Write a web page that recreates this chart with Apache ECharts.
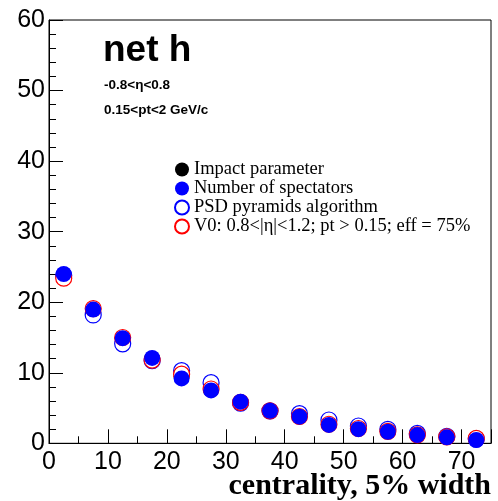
<!DOCTYPE html>
<html><head><meta charset="utf-8">
<script src="https://cdn.jsdelivr.net/npm/echarts@6/dist/echarts.min.js"></script>
<style>html,body{margin:0;padding:0;background:#fff}#c{width:498px;height:501px}</style>
</head><body><div id="c"></div>
<script>
var centrality = [2.5,7.5,12.5,17.5,22.5,27.5,32.5,37.5,42.5,47.5,52.5,57.5,62.5,67.5,72.5];
var impact     = [23.7,18.6,14.8,12.0,9.5,7.6,5.8,4.6,3.8,2.7,2.1,1.7,1.2,0.9,0.7];
var spectators = [24.0,18.95,14.9,12.1,9.2,7.5,5.9,4.6,3.77,2.6,2.0,1.64,1.17,0.85,0.47];
var psd        = [23.8,18.2,14.1,11.7,10.3,8.6,5.7,4.6,4.2,3.3,2.45,1.98,1.4,1.0,0.6];
var v0         = [23.4,19.1,15.0,11.8,9.8,7.7,5.8,4.6,3.8,2.7,2.1,1.7,1.2,0.9,0.7];
var names = ['Impact parameter','Number of spectators','PSD pyramids algorithm','V0: 0.8<|η|<1.2; pt > 0.15; eff = 75%'];
var xTitle = 'centrality, 5% width';

function pairs(v){ return centrality.map(function(x,i){return [x, v[i]];}); }
var chart = echarts.init(document.getElementById('c'));
var sans = 'Liberation Sans, Arial, Helvetica, sans-serif';
var serif = 'Liberation Serif, Times New Roman, serif';
chart.setOption({
  animation:false,
  backgroundColor:'#fff',
  title:[
    {text:'net h', left:103, top:32, padding:0, textStyle:{fontFamily:sans,fontWeight:'bold',fontSize:37,color:'#000'}},
    {text:'-0.8<η<0.8', left:104, top:78, padding:0, textStyle:{fontFamily:sans,fontWeight:'bold',fontSize:13.5,color:'#000'}},
    {text:'0.15<pt<2 GeV/c', left:104, top:103, padding:0, textStyle:{fontFamily:sans,fontWeight:'bold',fontSize:13.5,color:'#000'}}
  ],
  graphic:[
    {type:'text', right:7, top:471, style:{text:xTitle, font:'bold 30px ' + serif, fill:'#000'}}
  ],
  legend:{
    orient:'vertical', left:174, top:160, padding:0, itemGap:0, itemWidth:14, itemHeight:14,
    textStyle:{fontFamily:serif,fontSize:18.5,lineHeight:17,color:'#000'},
    data:names.map(function(n){return {name:n, icon:'circle'};})
  },
  grid:{left:49,right:7,top:20,bottom:57.7,show:true,borderColor:'#000',borderWidth:1,containLabel:false,outerBoundsMode:'none'},
  xAxis:{
    type:'value', min:0, max:75, interval:10,
    axisLine:{lineStyle:{color:'#000',width:1}},
    axisTick:{inside:true,length:14,lineStyle:{color:'#000'}},
    minorTick:{show:true,splitNumber:2,length:7,lineStyle:{color:'#000'}},
    splitLine:{show:false},
    axisLabel:{fontFamily:sans,fontSize:25,color:'#000',margin:6,showMaxLabel:false}
  },
  yAxis:{
    type:'value', min:0, max:60, interval:10,
    axisLine:{show:true,lineStyle:{color:'#000',width:1}},
    axisTick:{inside:true,length:14,lineStyle:{color:'#000'}},
    minorTick:{show:true,splitNumber:5,length:7,lineStyle:{color:'#000'}},
    splitLine:{show:false},
    axisLabel:{fontFamily:sans,fontSize:25,color:'#000',margin:4}
  },
  series:[
    {name:names[0],type:'scatter',symbol:'circle',symbolSize:16,data:pairs(impact),itemStyle:{color:'#000',opacity:1},z:2},
    {name:names[2],type:'scatter',symbol:'circle',symbolSize:16,data:pairs(psd),itemStyle:{color:'#fff',borderColor:'#0000ff',borderWidth:1.2,opacity:1},z:3},
    {name:names[3],type:'scatter',symbol:'circle',symbolSize:16,data:pairs(v0),itemStyle:{color:'#fff',borderColor:'#ff0000',borderWidth:1.2,opacity:1},z:4},
    {name:names[1],type:'scatter',symbol:'circle',symbolSize:16,data:pairs(spectators),itemStyle:{color:'#0000ff',opacity:1},z:5}
  ]
});
</script></body></html>
